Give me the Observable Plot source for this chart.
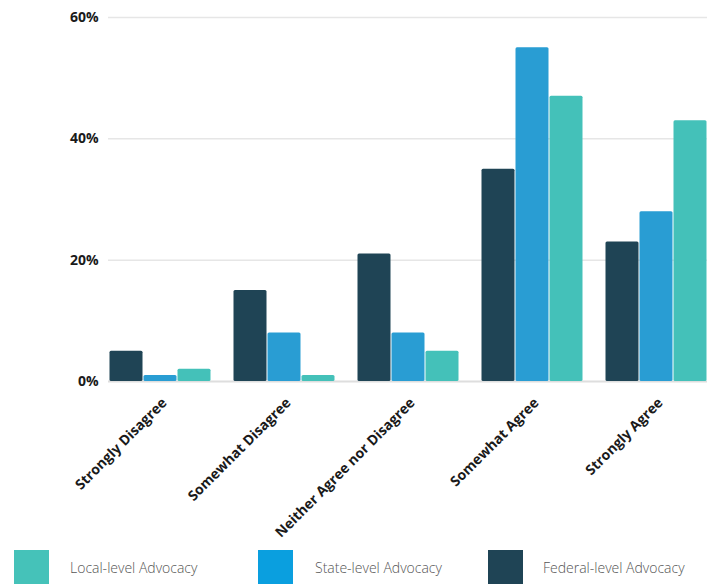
<!DOCTYPE html>
<html>
<head>
<meta charset="utf-8">
<script src="https://cdn.jsdelivr.net/npm/d3@7"></script>
<script src="https://cdn.jsdelivr.net/npm/@observablehq/plot@0.6"></script>
<style>
  html, body { margin: 0; padding: 0; background: #fff; overflow: hidden; }
  body { width: 717px; height: 584px; position: relative; font-family: "Open Sans", sans-serif; }
  #grid, #chart { position: absolute; left: 0; top: 0; }
  .lg-swatch { position: absolute; width: 35px; height: 36px; top: 550px; }
  .lg-text { position: absolute; top: 558px; font-size: 14px; color: #555; font-weight: 300; line-height: 20px; white-space: nowrap; }
</style>
</head>
<body>
<div id="grid"></div>
<div id="chart"></div>
<div id="legend"></div>
<script>
const categories = ["Strongly Disagree", "Somewhat Disagree", "Neither Agree nor Disagree", "Somewhat Agree", "Strongly Agree"];
const seriesNames = ["Federal-level Advocacy", "State-level Advocacy", "Local-level Advocacy"];
const federalValues = [5, 15, 21, 35, 23];
const stateValues = [1, 8, 8, 55, 28];
const localValues = [2, 1, 5, 47, 43];
const yTicks = [0, 20, 40, 60];
const seriesColors = ["#1f4455", "#299dd3", "#44c1b9"];
const legendOrder = ["Local-level Advocacy", "State-level Advocacy", "Federal-level Advocacy"];
const legendColors = ["#45c2b9", "#0a9fdf", "#1f4455"];

const valueSets = [federalValues, stateValues, localValues];
const data = [];
categories.forEach((c, i) => {
  seriesNames.forEach((s, j) => data.push({category: c, series: s, value: valueSets[j][i]}));
});

const frame = {width: 717, height: 545, marginLeft: 108, marginRight: 10, marginTop: 17, marginBottom: 164};

// Background layer: continuous horizontal gridlines across the whole plot width
const grid = Plot.plot({
  ...frame,
  style: {background: "#fff"},
  x: {domain: [0, 1], axis: null},
  y: {domain: [0, 60], axis: null},
  marks: [
    Plot.ruleY(yTicks.filter(d => d > 0), {stroke: "#e6e6e6", strokeWidth: 1.5}),
    Plot.ruleY([0], {stroke: "#dedede", strokeWidth: 2})
  ]
});
document.getElementById("grid").appendChild(grid);

const chart = Plot.plot({
  ...frame,
  style: {fontFamily: "'Open Sans', sans-serif", fontSize: "14px", fontWeight: "bold", color: "#1a1a1a", background: "transparent"},
  facet: {data, x: "category"},
  fx: {domain: categories, label: null, paddingInner: 0.18, paddingOuter: 0},
  x: {domain: seriesNames, axis: null, padding: 0},
  y: {domain: [0, 60], label: null},
  color: {domain: seriesNames, range: seriesColors},
  marks: [
    Plot.barY(data, {x: "series", y: "value", fill: "series", insetLeft: 0.5, insetRight: 0.5, rx: 1.5}),
    Plot.axisY(yTicks, {anchor: "left", tickFormat: d => d + "%", tickSize: 0, tickPadding: 11, label: null, fontSize: 14}),
    Plot.axisFx({anchor: "bottom", label: null, tickRotate: -45, tickSize: 0, tickPadding: 18, dx: 4, dy: 1, fontSize: 14})
  ]
});
document.getElementById("chart").appendChild(chart);

const legend = document.getElementById("legend");
const swLeft = [14, 258, 488];
const txLeft = [70, 315, 543];
legendOrder.forEach((name, i) => {
  const sw = document.createElement("div");
  sw.className = "lg-swatch";
  sw.style.left = swLeft[i] + "px";
  sw.style.background = legendColors[i];
  legend.appendChild(sw);
  const tx = document.createElement("div");
  tx.className = "lg-text";
  tx.style.left = txLeft[i] + "px";
  tx.textContent = name;
  legend.appendChild(tx);
});
</script>
</body>
</html>
